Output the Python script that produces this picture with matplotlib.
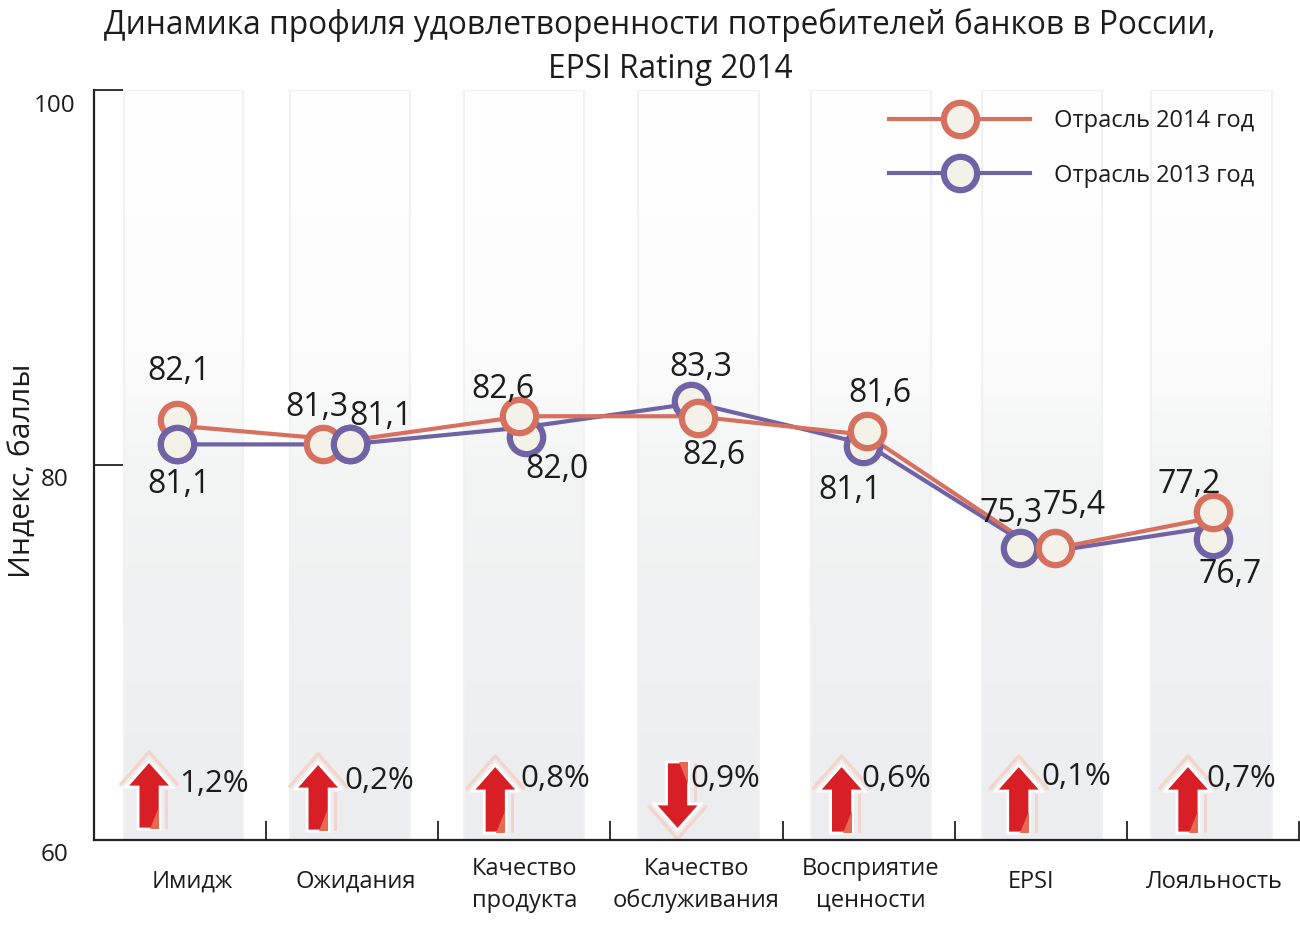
import numpy as np
import matplotlib.pyplot as plt
from matplotlib.colors import LinearSegmentedColormap
from matplotlib.lines import Line2D
from matplotlib.patches import Polygon

plt.rcParams['font.family'] = ['Open Sans', 'DejaVu Sans']
plt.rcParams['text.color'] = '#1c1c1c'

categories = ['Имидж', 'Ожидания', 'Качество\nпродукта', 'Качество\nобслуживания',
              'Восприятие\nценности', 'EPSI', 'Лояльность']

# линии идут по настоящим значениям
line_x = [-0.02, 0.98, 1.99, 2.99, 3.99, 5.0, 6.0]
vals_2014 = [82.1, 81.3, 82.6, 82.6, 81.6, 75.4, 77.2]
vals_2013 = [81.1, 81.1, 82.0, 83.3, 81.1, 75.3, 76.7]

# а кружки на исходной картинке сдвинуты относительно линий
x_2014 = [-0.02, 0.83, 1.97, 3.01, 3.99, 5.08, 6.00]
y_2014 = [82.4, 81.1, 82.6, 82.5, 81.8, 75.6, 77.5]
x_2013 = [-0.02, 0.99, 2.01, 2.97, 3.97, 4.88, 6.00]
y_2013 = [81.1, 81.1, 81.5, 83.4, 81.0, 75.6, 76.05]

labels_2014 = ['82,1', '81,3', '82,6', '82,6', '81,6', '75,4', '77,2']
labels_2013 = ['81,1', '81,1', '82,0', '83,3', '81,1', '75,3', '76,7']
changes = ['1,2%', '0,2%', '0,8%', '0,9%', '0,6%', '0,1%', '0,7%']
directions = [1, 1, 1, -1, 1, 1, 1]

# смещения подписей в пикселях от маркера
offs_2014 = [(2, 48), (-6, 37), (-16, 27), (16, -37), (13, 38), (20, 42), (-24, 27)]
offs_2013 = [(2, -40), (31, 28), (31, -33), (10, 34), (-13, -44), (-9, 34), (17, -35)]

arrow_shift = [-0.18, -0.198, -0.169, -0.11, -0.157, -0.128, -0.145]
arrow_base = [829, 831, 833, 762, 833, 833, 833]
pct_pos = [(214, 784), (379, 781), (555, 779), (725, 779), (896, 779), (1075, 777), (1240, 779)]
xlabel_shift = [12, 4, 0, 0, 2, -10, 1]
bands = [(124, 243), (290, 410), (464, 584), (638, 758), (810, 930), (981, 1101), (1150, 1271)]

W, H = 1300, 951
RED = '#d6705f'
BLUE = '#6f62a5'
FACE = '#f4f2e8'


def px_x(p):
    return (p - 94) / 172 - 0.5


def px_y(p):
    return 100 - (p - 90) / 18.75


fig = plt.figure(figsize=(W / 100, H / 100), dpi=100)
ax = fig.add_axes([94 / W, (H - 840) / H, (W - 94) / W, 750 / H])

# серые полосы с градиентом
cmap = LinearSegmentedColormap.from_list('band', [(0, '#ffffff'), (0.33, '#fdfdfd'), (0.51, '#f3f4f4'), (1, '#ebedef')])
grad = np.linspace(0, 1, 256).reshape(-1, 1)
for left, right in bands:
    ax.imshow(grad, extent=(px_x(left), px_x(right), 60, 100), cmap=cmap, vmin=0, vmax=1,
              aspect='auto', origin='upper', zorder=0)
    ax.plot([px_x(left), px_x(left), px_x(right), px_x(right)], [60, 100, 100, 60],
            color='#f1f1f1', lw=1.5, zorder=0.5)
ax.set_xlim(-0.5, px_x(1299))
ax.set_ylim(60, 100)

for s in ['top', 'right']:
    ax.spines[s].set_visible(False)
for s in ['left', 'bottom']:
    ax.spines[s].set_color('#222222')
    ax.spines[s].set_linewidth(1.6)

ax.set_xticks(np.arange(0.5, 6.6, 1))
ax.set_xticklabels([])
ax.set_yticks([80, 100])
ax.set_yticklabels([])
ax.tick_params(axis='x', direction='in', length=14, width=1.3, color='#222222')
ax.tick_params(axis='y', direction='in', length=21, width=1.3, color='#222222')

ax.plot(line_x, vals_2013, color=BLUE, lw=3, zorder=2.5)
ax.plot(line_x, vals_2014, color=RED, lw=3, zorder=2.6)
ax.plot(x_2013, y_2013, ls='none', marker='o', ms=24, mew=4.5, mfc=FACE, mec=BLUE, zorder=3)
ax.plot(x_2014, y_2014, ls='none', marker='o', ms=24, mew=4.5, mfc=FACE, mec=RED, zorder=4)
# там, где синий маркер лежит сверху
top_2013 = [0, 1]
ax.plot([x_2013[i] for i in top_2013], [y_2013[i] for i in top_2013], ls='none', marker='o', ms=24,
        mew=4.5, mfc=FACE, mec=BLUE, zorder=5)

for i in range(7):
    ax.annotate(labels_2014[i], (x_2014[i], y_2014[i]), xytext=(offs_2014[i][0] * 0.72, offs_2014[i][1] * 0.72),
                textcoords='offset points', ha='center', va='center', fontsize=23, zorder=6)
    ax.annotate(labels_2013[i], (x_2013[i], y_2013[i]), xytext=(offs_2013[i][0] * 0.72, offs_2013[i][1] * 0.72),
                textcoords='offset points', ha='center', va='center', fontsize=23, zorder=6)

# стрелки
px = 1 / 172
py = 1 / 18.75
for i in range(7):
    c = i + arrow_shift[i]
    d = directions[i]
    base = px_y(arrow_base[i])
    # d=1: основание снизу, острие сверху
    shape = [(-11, 0), (-11, 42), (-23, 42), (0, 68), (23, 42), (11, 42), (11, 0)]
    pts = [(c + sx * px, base + d * sy * py) for sx, sy in shape]
    glow = [(-28, 45), (0, 77), (28, 45)]
    ax.plot([c + sx * px for sx, sy in glow], [base + d * sy * py for sx, sy in glow],
            color='#f4d5cb', lw=2.5, zorder=2)
    ax.plot([c + 17 * px, c + 17 * px], [base + d * 2 * py, base + d * 38 * py], color='#f3d3ca', lw=2, zorder=2)
    ax.add_patch(Polygon(pts, closed=True, fc='#d81f26', ec='white', lw=2, zorder=3, joinstyle='miter'))
    glint = [(1, 0), (10, 0), (10, 22)]
    ax.add_patch(Polygon([(c + sx * px, base + d * sy * py) for sx, sy in glint], closed=True,
                         fc='#e8694f', ec='none', zorder=3.5))
    ax.text(px_x(pct_pos[i][0]), px_y(pct_pos[i][1]), changes[i], ha='center', va='center', fontsize=22.5, zorder=6)

# подписи категорий
for i, name in enumerate(categories):
    if '\n' in name:
        ax.text(i + xlabel_shift[i] / 172, px_y(885), name, ha='center', va='center', fontsize=17,
                linespacing=1.42, clip_on=False)
    else:
        ax.text(i + xlabel_shift[i] / 172, px_y(882), name, ha='center', va='center', fontsize=17, clip_on=False)

# подписи оси y смещены вниз от делений
for val, y in zip(['100', '80', '60'], [106, 480, 855]):
    ax.text(px_x(55), px_y(y), val, ha='center', va='center', fontsize=17.5, clip_on=False)

fig.text(23 / W, 1 - 471 / H, 'Индекс, баллы', rotation=90, ha='center', va='center', fontsize=21.7)
fig.text(660 / W, 1 - 25 / H, 'Динамика профиля удовлетворенности потребителей банков в России,',
         ha='center', va='center', fontsize=22.8)
fig.text(670 / W, 1 - 69 / H, 'EPSI Rating 2014', ha='center', va='center', fontsize=22.8)

handles = [Line2D([], [], color=RED, lw=3, marker='o', ms=24, mew=4.5, mfc=FACE, mec=RED),
           Line2D([], [], color=BLUE, lw=3, marker='o', ms=24, mew=4.5, mfc=FACE, mec=BLUE)]
ax.legend(handles, ['Отрасль 2014 год', 'Отрасль 2013 год'], loc='upper left',
          bbox_to_anchor=((884 - 94) / (W - 94), 0.981), frameon=False,
          fontsize=17, handlelength=6.0, numpoints=1, labelspacing=1.3, handletextpad=1.0, borderpad=0.2,
          borderaxespad=0)

fig.savefig('out.png', dpi=100)
